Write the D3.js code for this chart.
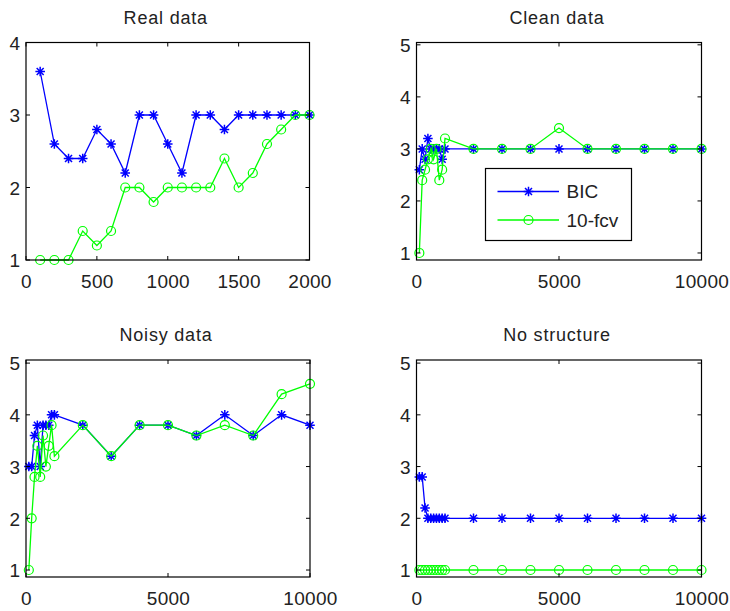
<!DOCTYPE html>
<html><head><meta charset="utf-8">
<script src="https://cdn.jsdelivr.net/npm/d3@7"></script>
<style>body{margin:0;background:#fff}svg{display:block}text{font-family:"Liberation Sans",Arial,sans-serif;fill:#222}</style>
</head><body><svg id="c" width="730" height="611"></svg>
<script>
const titles = ["Real data","Clean data","Noisy data","No structure"];
const seriesNames = ["BIC","10-fcv"];
const xReal = [100,200,300,400,500,600,700,800,900,1000,1100,1200,1300,1400,1500,1600,1700,1800,1900,2000];
const xLong = [100,200,300,400,500,600,700,800,900,1000,2000,3000,4000,5000,6000,7000,8000,9000,10000];
const realBIC = [3.6,2.6,2.4,2.4,2.8,2.6,2.2,3,3,2.6,2.2,3,3,2.8,3,3,3,3,3,3];
const realCV  = [1,1,1,1.4,1.2,1.4,2,2,1.8,2,2,2,2,2.4,2,2.2,2.6,2.8,3,3];
const cleanBIC = [2.6,3,2.8,3.2,3,3,3,3,2.8,3,3,3,3,3,3,3,3,3,3];
const cleanCV  = [1,2.4,2.6,2.8,3,2.8,3,2.4,2.6,3.2,3,3,3,3.4,3,3,3,3,3];
const noisyBIC = [3,3,3.6,3.8,3,3.8,3.8,3.8,4,4,3.8,3.2,3.8,3.8,3.6,4,3.6,4,3.8];
const noisyCV  = [1,2,2.8,3.4,2.8,3.6,3,3.4,3.8,3.2,3.8,3.2,3.8,3.8,3.6,3.8,3.6,4.4,4.6];
const noneBIC = [2.8,2.8,2.2,2,2,2,2,2,2,2,2,2,2,2,2,2,2,2,2];
const noneCV  = [1,1,1,1,1,1,1,1,1,1,1,1,1,1,1,1,1,1,1];
const xTicksReal = [0,500,1000,1500,2000];
const xTicksLong = [0,5000,10000];
const yTicksReal = [1,2,3,4];
const yTicksLong = [1,2,3,4,5];

const colors = ["#0000ff","#00ff00"];
const svg = d3.select("#c");

const panels = [
  {title:titles[0], x:xReal, s:[realBIC,realCV], xd:[0,2000], yd:[1,4], xt:xTicksReal, yt:yTicksReal, L:26, R:309.5, T:42.5, B:260},
  {title:titles[1], x:xLong, s:[cleanBIC,cleanCV], xd:[0,10000], yd:[0.865,5.045], xt:xTicksLong, yt:yTicksLong, L:416.5, R:701.5, T:42.5, B:260, legend:true},
  {title:titles[2], x:xLong, s:[noisyBIC,noisyCV], xd:[0,10000], yd:[0.865,5.06], xt:xTicksLong, yt:yTicksLong, L:26, R:310, T:360, B:577},
  {title:titles[3], x:xLong, s:[noneBIC,noneCV], xd:[0,10000], yd:[0.865,5.06], xt:xTicksLong, yt:yTicksLong, L:416.5, R:701.5, T:360, B:577}
];

function star(g, cx, cy, color){
  const r=4.8, d=3.5;
  g.append("path").attr("d",`M${cx-r},${cy}H${cx+r}M${cx},${cy-r}V${cy+r}M${cx-d},${cy-d}L${cx+d},${cy+d}M${cx-d},${cy+d}L${cx+d},${cy-d}`)
   .attr("stroke",color).attr("stroke-width",1.5).attr("fill","none");
}
function circ(g, cx, cy, color){
  g.append("circle").attr("cx",cx).attr("cy",cy).attr("r",4.5).attr("fill","none").attr("stroke",color).attr("stroke-width",1.2);
}

panels.forEach(p=>{
  const g = svg.append("g");
  const x = d3.scaleLinear().domain(p.xd).range([p.L,p.R]);
  const y = d3.scaleLinear().domain(p.yd).range([p.B,p.T]);
  p.s.forEach((vals,i)=>{
    const line = d3.line().x((d,j)=>x(p.x[j])).y(d=>y(d));
    g.append("path").datum(vals).attr("d",line).attr("fill","none").attr("stroke",colors[i]).attr("stroke-width",1.3);
    vals.forEach((v,j)=>{ if(i===0) star(g,x(p.x[j]),y(v),colors[i]); else circ(g,x(p.x[j]),y(v),colors[i]); });
  });
  g.append("rect").attr("x",p.L).attr("y",p.T).attr("width",p.R-p.L).attr("height",p.B-p.T).attr("fill","none").attr("stroke","#000").attr("stroke-width",1.2);
  const tl=4;
  const xa = d3.axisBottom(x).tickValues(p.xt).tickSize(0).tickPadding(0).tickFormat(d3.format("d"));
  const xg = g.append("g").attr("transform",`translate(0,${p.B})`).call(xa);
  xg.select(".domain").remove();
  xg.selectAll("text").attr("y",28).attr("dy",0).style("font-size","19px").style("letter-spacing","0.3px").attr("fill","#222");
  const ya = d3.axisLeft(y).tickValues(p.yt).tickSize(0).tickPadding(0).tickFormat(d3.format("d"));
  const yg = g.append("g").attr("transform",`translate(${p.L},0)`).call(ya);
  yg.select(".domain").remove();
  yg.selectAll("text").attr("x",-6).attr("dy","0.36em").style("font-size","19px").attr("fill","#222");
  p.xt.forEach(t=>{
    g.append("line").attr("x1",x(t)).attr("x2",x(t)).attr("y1",p.B).attr("y2",p.B-tl).attr("stroke","#000");
    g.append("line").attr("x1",x(t)).attr("x2",x(t)).attr("y1",p.T).attr("y2",p.T+tl).attr("stroke","#000");
  });
  p.yt.forEach(t=>{
    g.append("line").attr("x1",p.L).attr("x2",p.L+tl).attr("y1",y(t)).attr("y2",y(t)).attr("stroke","#000");
    g.append("line").attr("x1",p.R).attr("x2",p.R-tl).attr("y1",y(t)).attr("y2",y(t)).attr("stroke","#000");
  });
  g.append("text").attr("x",(p.L+p.R)/2-2).attr("y",p.T-19).attr("text-anchor","middle").style("font-size","18px").style("letter-spacing","0.8px").text(p.title);
  if(p.legend){
    const lx=485.5, ly=168.5, lw=146, lh=72;
    g.append("rect").attr("x",lx).attr("y",ly).attr("width",lw).attr("height",lh).attr("fill","#fff").attr("stroke","#000").attr("stroke-width",1.2);
    seriesNames.forEach((n,i)=>{
      const yy = ly + 23 + i*28.5;
      g.append("line").attr("x1",lx+12).attr("x2",lx+73.5).attr("y1",yy).attr("y2",yy).attr("stroke",colors[i]).attr("stroke-width",1.3);
      if(i===0) star(g,lx+43,yy,colors[i]); else circ(g,lx+43,yy,colors[i]);
      g.append("text").attr("x",lx+81).attr("y",yy).attr("dy","0.36em").style("font-size","19px").text(n);
    });
  }
});
</script></body></html>
